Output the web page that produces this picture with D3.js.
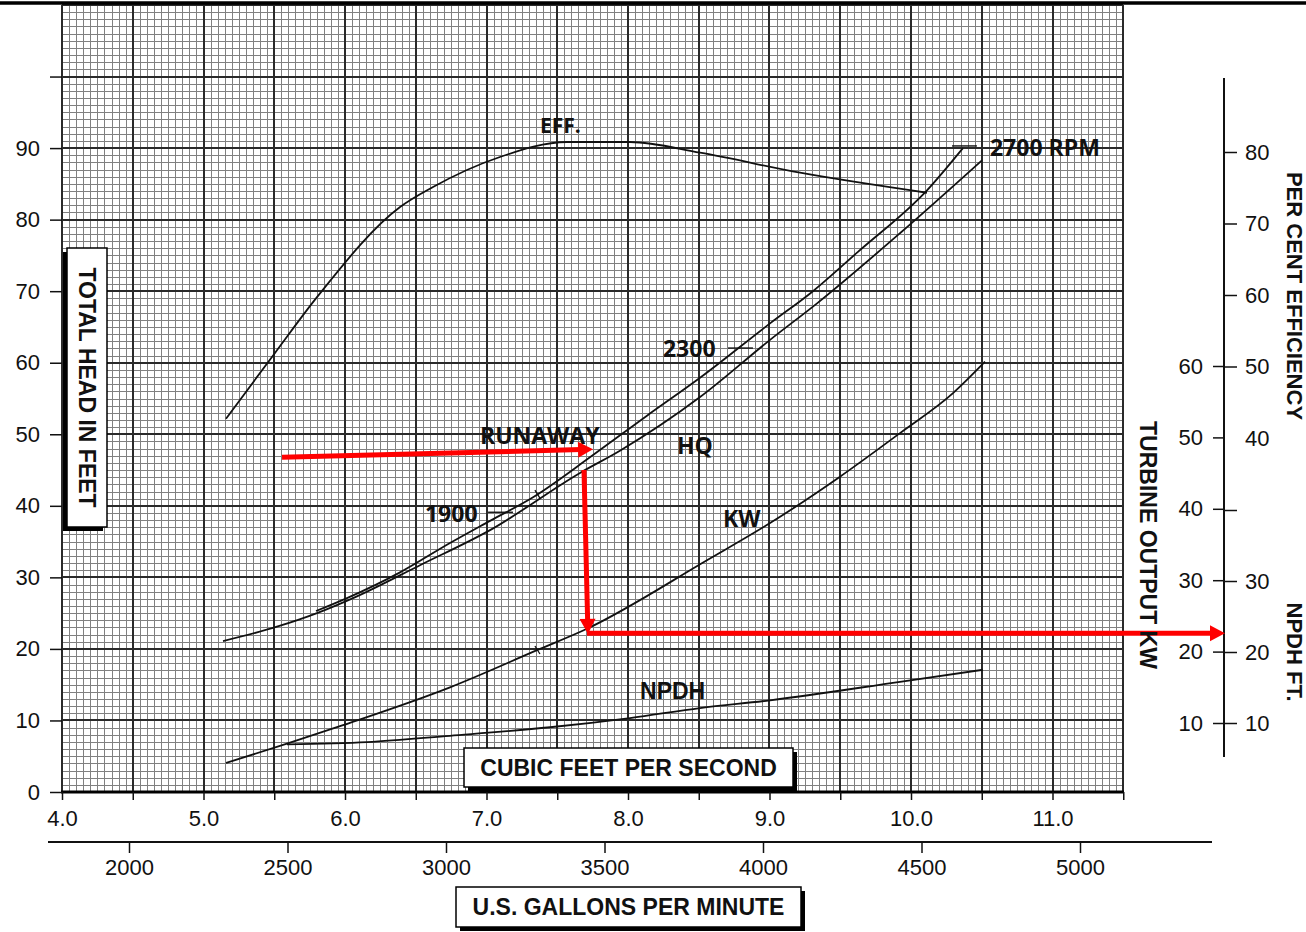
<!DOCTYPE html>
<html>
<head>
<meta charset="utf-8">
<script src="https://cdn.jsdelivr.net/npm/d3@7.9.0/dist/d3.min.js"></script>
<style>
  body { margin: 0; background: #fff; }
  svg { display: block; }
  text { font-family: "Liberation Sans", Arial, sans-serif; }
</style>
</head>
<body>
<svg id="chart" width="1306" height="932"></svg>
<script>
// values, flow in cubic feet per second on x
const runawayCfs  = [5.795, 6.014, 6.389, 6.742, 7.025, 7.329, 7.753, 8.134, 8.509, 9.004, 9.307, 9.625, 10.113, 10.367];
const runawayHead = [25.3, 27.1, 30.7, 34.8, 37.9, 41.2, 47.1, 52.6, 57.9, 65.5, 70.0, 75.5, 84.1, 90.0];

const hqCfs  = [5.138, 5.519, 5.802, 6.057, 6.530, 7.025, 7.661, 7.943, 8.509, 9.004, 9.336, 9.922, 10.502];
const hqHead = [21.1, 23.1, 25.0, 27.1, 31.7, 36.6, 44.6, 47.7, 55.2, 63.2, 68.3, 78.1, 88.3];

const effCfs = [5.159, 5.505, 5.802, 6.389, 6.622, 7.095, 7.569, 8.014, 8.509, 9.216, 10.113];
const effPct = [42.7, 51.9, 59.7, 72.3, 75.1, 79.3, 81.4, 81.4, 79.9, 77.1, 74.3];

const kwCfs = [5.159, 5.590, 5.986, 6.742, 7.357, 7.710, 8.558, 9.004, 9.498, 9.922, 10.297, 10.523];
const kwOut = [4.4, 7.1, 9.7, 15.0, 20.2, 23.2, 32.8, 38.0, 44.5, 50.6, 56.2, 60.6];

const npdhCfs = [5.590, 6.155, 6.742, 7.449, 8.014, 8.509, 9.004, 9.922, 10.509];
const npdhFt  = [7.0, 7.3, 8.2, 9.4, 10.7, 12.1, 13.2, 15.8, 17.5];

// small rpm marks on the runaway and kw curves (cfs)
const runawayMarks = [7.36];
const kwMarks = [7.36];

// axis ticks
const headTicks = d3.range(0, 101, 10);
const cfsTicks = d3.range(4, 11.51, 0.5);
const gpmTicks = [2000, 2500, 3000, 3500, 4000, 4500, 5000];
const kwTicks = [10, 20, 30, 40, 50, 60];
const effTicks = [40, 50, 60, 70, 80];
const npdhTicks = [10, 20, 30, 40];

// red reading path (cfs, head)
const arrows = [
  [[5.555, 46.8], [7.753, 47.9]],
  [[7.689, 45.0], [7.717, 22.1]],
  [[7.710, 22.2], [12.219, 22.2]]
];

// curve labels (cfs, head)
const labels = [
  { text: 'EFF.', cfs: 7.378, head: 93.2, size: 21 },
  { text: '2700 RPM', cfs: 10.558, head: 90.1, size: 23 },
  { text: '2300', cfs: 8.247, head: 62.05, size: 23 },
  { text: 'RUNAWAY', cfs: 6.954, head: 49.9, size: 23 },
  { text: 'HQ', cfs: 8.346, head: 48.5, size: 23 },
  { text: '1900', cfs: 6.565, head: 39.0, size: 23 },
  { text: 'KW', cfs: 8.671, head: 38.3, size: 23 },
  { text: 'NPDH', cfs: 8.085, head: 14.1, size: 23, helv: true }
];
const leaders = [
  [[7.011, 39.1], [7.187, 39.1]],
  [[8.707, 62.05], [8.883, 62.05]],
  [[10.290, 90.3], [10.466, 90.3]]
];

const svg = d3.select('#chart');
svg.append('rect').attr('width', 1306).attr('height', 932).attr('fill', '#fff');

const x = d3.scaleLinear().domain([4, 11.5]).range([62, 1123.25]);
const y = d3.scaleLinear().domain([0, 110]).range([792, 5]);
const kw = d3.scaleLinear().domain([10, 60]).range([723, 366]);
const eff = d3.scaleLinear().domain([40, 80]).range([438, 152]);
const npdh = d3.scaleLinear().domain([10, 40]).range([723, 510]);
const gpm = d3.scaleLinear().domain([2000, 5000]).range([129, 1080]);

// graph paper: fine lines every 0.05 cfs / 1 ft, heavy every 0.5 cfs / 10 ft
const grid = svg.append('g');
const vIdx = d3.range(0, 151);
const hIdx = d3.range(0, 111);
const vx = i => x(4 + i * 0.05);
const x0 = Math.round(x(4)), x1 = Math.round(x(11.5));
const y0 = Math.round(y(0)), y1 = Math.round(y(110));

grid.selectAll('line.vf').data(vIdx.filter(i => i % 10 !== 0)).join('line')
  .attr('x1', i => Math.round(vx(i)) + 0.5).attr('x2', i => Math.round(vx(i)) + 0.5)
  .attr('y1', y0).attr('y2', y1)
  .attr('stroke', '#808080').attr('stroke-width', 1);
grid.selectAll('line.hf').data(hIdx.filter(d => d % 10 !== 0)).join('line')
  .attr('y1', d => Math.round(y(d)) + 0.5).attr('y2', d => Math.round(y(d)) + 0.5)
  .attr('x1', x0).attr('x2', x1)
  .attr('stroke', '#808080').attr('stroke-width', 1);
grid.selectAll('line.vm').data(vIdx.filter(i => i % 10 === 0)).join('line')
  .attr('x1', i => Math.round(vx(i))).attr('x2', i => Math.round(vx(i)))
  .attr('y1', y0).attr('y2', y1)
  .attr('stroke', '#2a2a2a').attr('stroke-width', 2);
grid.selectAll('line.hm').data(hIdx.filter(d => d % 10 === 0)).join('line')
  .attr('y1', d => Math.round(y(d))).attr('y2', d => Math.round(y(d)))
  .attr('x1', x0).attr('x2', x1)
  .attr('stroke', '#2a2a2a').attr('stroke-width', 2);
svg.append('line').attr('x1', x0 - 1).attr('x2', x1 + 1).attr('y1', y0).attr('y2', y0)
  .attr('stroke', '#000').attr('stroke-width', 3);

// top rule
svg.append('line').attr('x1', 0).attr('x2', 1306).attr('y1', 3).attr('y2', 3)
  .attr('stroke', '#000').attr('stroke-width', 3.5);

function styleAxis(g) {
  g.attr('font-family', '"Liberation Sans", Arial, sans-serif').attr('font-size', 22).attr('color', '#111');
  g.select('.domain').remove();
  g.selectAll('.tick line').attr('stroke-width', 1.5);
}

// left head axis
svg.append('g').attr('transform', `translate(${x(4)},0)`)
  .call(d3.axisLeft(y).tickValues(headTicks).tickSize(12).tickPadding(10)
    .tickFormat(d => d === 100 ? '' : d))
  .call(styleAxis);

// cfs axis
svg.append('g').attr('transform', `translate(0,${y(0)})`)
  .call(d3.axisBottom(x).tickValues(cfsTicks).tickSize(8).tickPadding(10)
    .tickFormat(d => Number.isInteger(d) ? d.toFixed(1) : ''))
  .call(styleAxis);

// gpm axis
svg.append('line').attr('x1', 48).attr('x2', 1212).attr('y1', 842).attr('y2', 842)
  .attr('stroke', '#111').attr('stroke-width', 2);
svg.append('g').attr('transform', 'translate(0,842)')
  .call(d3.axisBottom(gpm).tickValues(gpmTicks).tickSize(11).tickPadding(6).tickFormat(d3.format('d')))
  .call(styleAxis);

// right axes
svg.append('line').attr('x1', 1224).attr('x2', 1224).attr('y1', 78).attr('y2', 757)
  .attr('stroke', '#111').attr('stroke-width', 2);
svg.append('g').attr('transform', 'translate(1224,0)')
  .call(d3.axisLeft(kw).tickValues(kwTicks).tickSize(11).tickPadding(10))
  .call(styleAxis);
svg.append('g').attr('transform', 'translate(1224,0)')
  .call(d3.axisRight(eff).tickValues(effTicks).tickSize(13).tickPadding(8))
  .call(styleAxis)
  .call(g => g.selectAll('.tick').filter(d => d === 40).select('line').remove());
svg.append('g').attr('transform', 'translate(1224,0)')
  .call(d3.axisRight(npdh).tickValues(npdhTicks).tickSize(13).tickPadding(8)
    .tickFormat(d => d === 40 ? '' : d))
  .call(styleAxis);

// curves
const plot = (xs, ys, yScale) => d3.line()
  .x(d => x(d[0])).y(d => yScale(d[1]))
  .curve(d3.curveMonotoneX)(d3.zip(xs, ys));

const curves = svg.append('g').attr('fill', 'none').attr('stroke', '#111').attr('stroke-width', 1.8);
curves.append('path').attr('d', plot(runawayCfs, runawayHead, y));
curves.append('path').attr('d', plot(hqCfs, hqHead, y));
curves.append('path').attr('d', plot(effCfs, effPct, eff));
curves.append('path').attr('d', plot(kwCfs, kwOut, kw));
curves.append('path').attr('d', plot(npdhCfs, npdhFt, npdh));

curves.selectAll('line.leader').data(leaders).join('line')
  .attr('x1', d => x(d[0][0])).attr('y1', d => y(d[0][1]))
  .attr('x2', d => x(d[1][0])).attr('y2', d => y(d[1][1]))
  .attr('stroke-width', 1.4);

// small cross marks on curves
const onRunaway = d3.scaleLinear().domain(runawayCfs).range(runawayHead);
const onKw = d3.scaleLinear().domain(kwCfs).range(kwOut);
const markPts = runawayMarks.map(c => [x(c), y(onRunaway(c))])
  .concat(kwMarks.map(c => [x(c), kw(onKw(c))]));
curves.selectAll('line.mark').data(markPts).join('line')
  .attr('x1', d => d[0] - 2.5).attr('y1', d => d[1] - 4)
  .attr('x2', d => d[0] + 2.5).attr('y2', d => d[1] + 4)
  .attr('stroke-width', 1.3);

// curve labels
svg.append('g').selectAll('text').data(labels).join('text')
  .attr('x', d => x(d.cfs)).attr('y', d => y(d.head))
  .attr('dominant-baseline', 'central')
  .style('font-family', d => d.helv ? '"Liberation Sans", Arial, sans-serif' : '"Open Sans", "Liberation Sans", sans-serif')
  .attr('font-weight', 'bold').attr('font-size', d => d.size).attr('fill', '#111')
  .text(d => d.text);

// red reading arrows
const red = svg.append('g');
arrows.forEach(([a, b]) => {
  const p0 = [x(a[0]), y(a[1])], p1 = [x(b[0]), y(b[1])];
  const len = Math.hypot(p1[0] - p0[0], p1[1] - p0[1]);
  const ux = (p1[0] - p0[0]) / len, uy = (p1[1] - p0[1]) / len;
  red.append('line')
    .attr('x1', p0[0]).attr('y1', p0[1])
    .attr('x2', p1[0] - ux * 12).attr('y2', p1[1] - uy * 12)
    .attr('stroke', '#ff0000').attr('stroke-width', 5);
  const bx = p1[0] - ux * 15, by = p1[1] - uy * 15;
  red.append('path')
    .attr('d', `M${p1[0]},${p1[1]}L${bx - uy * 8},${by + ux * 8}L${bx + uy * 8},${by - ux * 8}Z`)
    .attr('fill', '#ff0000');
});

// titles
function box(cx, cy, w, h, text, rotate, shadow) {
  const g = svg.append('g').attr('transform', `translate(${cx},${cy}) rotate(${rotate})`);
  g.append('rect').attr('x', -w / 2 + shadow).attr('y', -h / 2 + shadow).attr('width', w).attr('height', h).attr('fill', '#000');
  g.append('rect').attr('x', -w / 2).attr('y', -h / 2).attr('width', w).attr('height', h)
    .attr('fill', '#fff').attr('stroke', '#000').attr('stroke-width', 1.5);
  g.append('text').attr('text-anchor', 'middle').attr('dominant-baseline', 'central')
    .attr('font-weight', 'bold').attr('font-size', 23).attr('fill', '#111').text(text);
}
box(628.5, 767.5, 329, 39, 'CUBIC FEET PER SECOND', 0, 4);
box(628.5, 907, 345, 40, 'U.S. GALLONS PER MINUTE', 0, 4);
box(87, 387.5, 279, 40, 'TOTAL HEAD IN FEET', 90, 4);

function vtitle(cx, cy, text, size) {
  svg.append('text').attr('transform', `translate(${cx},${cy}) rotate(90)`)
    .attr('text-anchor', 'middle').attr('dominant-baseline', 'central')
    .attr('font-weight', 'bold').attr('font-size', size).attr('fill', '#111').text(text);
}
vtitle(1148, 545, 'TURBINE OUTPUT KW', 23);
vtitle(1294, 296, 'PER CENT EFFICIENCY', 22);
vtitle(1294, 652, 'NPDH FT.', 22);
</script>
</body>
</html>
